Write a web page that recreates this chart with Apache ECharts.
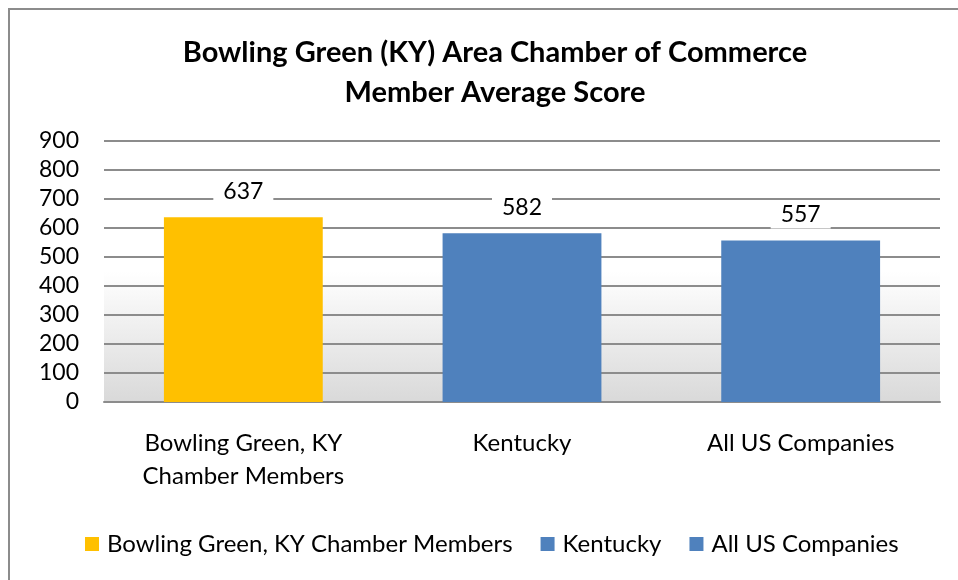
<!DOCTYPE html>
<html>
<head>
<meta charset="utf-8">
<script src="https://cdn.jsdelivr.net/npm/echarts@6/dist/echarts.min.js"></script>
<style>
  html, body { margin: 0; padding: 0; background: #fff; }
  #chart { width: 958px; height: 580px; }
</style>
</head>
<body>
<div id="chart"></div>
<script>
// categories and scores
const categories = ['Bowling Green, KY\nChamber Members', 'Kentucky', 'All US Companies'];
const seriesNames = ['Bowling Green, KY Chamber Members', 'Kentucky', 'All US Companies'];
const scores = [637, 582, 557];
const barColors = ['#FFC000', '#4F81BD', '#4F81BD'];
const yTicks = { min: 0, max: 900, interval: 100 };

const font = 'Lato, "Liberation Sans", sans-serif';

const chart = echarts.init(document.getElementById('chart'), null, { renderer: 'canvas' });

// one series per category so legend shows each bar
const series = seriesNames.map(function (name, i) {
  return {
    name: name,
    type: 'bar',
    stack: 'score',
    barWidth: '57%',
    itemStyle: { color: barColors[i] },
    label: {
      show: true,
      position: 'top',
      distance: 12,
      color: '#000',
      fontFamily: font,
      fontSize: 23,
      backgroundColor: '#fff',
      padding: [2, 10]
    },
    data: categories.map(function (c, j) { return j === i ? scores[i] : '-'; })
  };
});

const option = {
  animation: false,
  title: {
    text: 'Bowling Green (KY) Area Chamber of Commerce\nMember Average Score',
    left: 490,
    textAlign: 'center',
    top: 28,
    textStyle: {
      fontFamily: font,
      fontWeight: 'bold',
      fontSize: 29,
      lineHeight: 40,
      color: '#000'
    }
  },
  graphic: [{
    type: 'rect',
    shape: { x: 9, y: 9, width: 1000, height: 1000 },
    style: { fill: null, stroke: '#8c8c8c', lineWidth: 2 },
    silent: true
  }],
  legend: {
    bottom: 19,
    left: 80,
    itemWidth: 14,
    itemHeight: 14,
    itemGap: 28,
    icon: 'rect',
    textStyle: { fontFamily: font, fontSize: 24, color: '#000', padding: [0, 0, 0, 3] },
    data: seriesNames
  },
  grid: {
    left: 104,
    right: 18,
    top: 141,
    bottom: 178,
    show: true,
    borderWidth: 0,
    backgroundColor: new echarts.graphic.LinearGradient(0, 0, 0, 1, [
      { offset: 0, color: '#ffffff' },
      { offset: 0.5, color: '#ffffff' },
      { offset: 1, color: '#d9d9d9' }
    ])
  },
  xAxis: {
    type: 'category',
    data: categories,
    axisTick: { show: false },
    axisLine: { lineStyle: { color: '#8c8c8c', width: 2 } },
    axisLabel: {
      fontFamily: font,
      fontSize: 24,
      lineHeight: 33,
      color: '#000',
      margin: 25
    }
  },
  yAxis: {
    type: 'value',
    min: yTicks.min,
    max: yTicks.max,
    interval: yTicks.interval,
    axisLine: { show: false },
    axisTick: { show: false },
    axisLabel: { fontFamily: font, fontSize: 23, color: '#000', margin: 25 },
    splitLine: { lineStyle: { color: '#8c8c8c', width: 2 } }
  },
  series: series
};

chart.setOption(option);
</script>
</body>
</html>
